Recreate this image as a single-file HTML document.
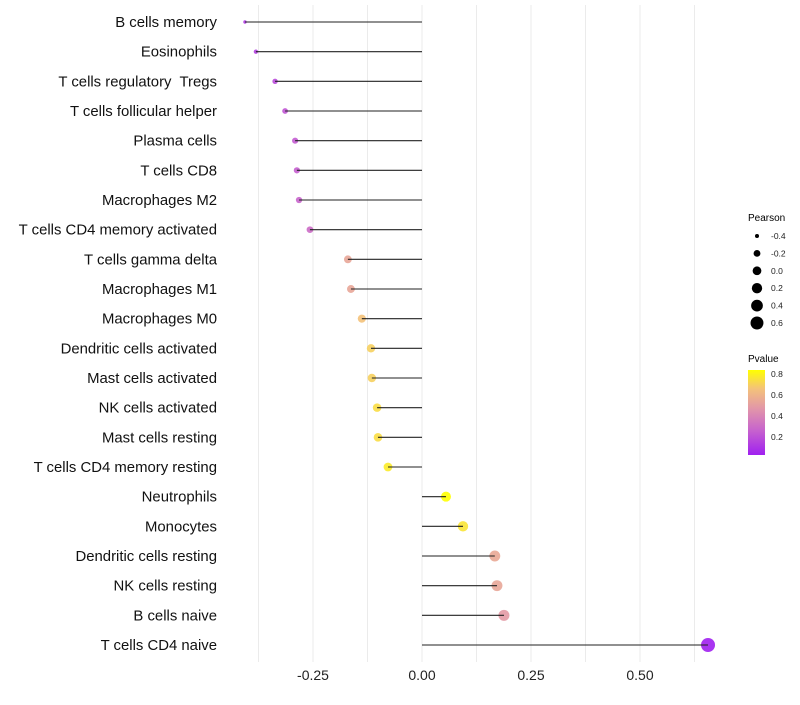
<!DOCTYPE html>
<html><head><meta charset="utf-8"><style>body{margin:0;background:#fff}svg text{font-family:"Liberation Sans",sans-serif;white-space:pre}</style></head>
<body>
<svg id="c" width="800" height="700" xmlns="http://www.w3.org/2000/svg">
<defs><linearGradient id="pg" x1="0" y1="1" x2="0" y2="0">
<stop offset="0" stop-color="#a020f0"/><stop offset="0.3" stop-color="#c865cc"/><stop offset="0.55" stop-color="#e297a8"/><stop offset="0.78" stop-color="#f4c27a"/><stop offset="1" stop-color="#ffff00"/></linearGradient></defs>
<g id="grid"></g><g id="marks"></g><g id="labels"></g><g id="xaxis"></g>
<g id="legend">
<text x="748" y="221" font-size="10">Pearson</text>
<g id="sizeLeg"></g>
<text x="748" y="362" font-size="10">Pvalue</text>
<rect x="748" y="370" width="17" height="85" fill="url(#pg)"/>
<g id="colLeg"></g>
</g>
</svg>
<script>
const categories=["B cells memory","Eosinophils","T cells regulatory  Tregs","T cells follicular helper","Plasma cells","T cells CD8","Macrophages M2","T cells CD4 memory activated","T cells gamma delta","Macrophages M1","Macrophages M0","Dendritic cells activated","Mast cells activated","NK cells activated","Mast cells resting","T cells CD4 memory resting","Neutrophils","Monocytes","Dendritic cells resting","NK cells resting","B cells naive","T cells CD4 naive"];
const pearson=[-0.406,-0.381,-0.337,-0.314,-0.291,-0.287,-0.282,-0.257,-0.170,-0.163,-0.138,-0.117,-0.115,-0.103,-0.101,-0.078,0.055,0.094,0.167,0.172,0.188,0.656];
const pvalue=[0.12,0.14,0.18,0.22,0.24,0.25,0.27,0.30,0.55,0.55,0.66,0.70,0.70,0.74,0.74,0.78,0.84,0.76,0.56,0.55,0.50,0.03];
const xTicks=[-0.25,0,0.25,0.5];
const xTickLabels=["-0.25","0.00","0.25","0.50"];
const sizeLegVals=[-0.4,-0.2,0.0,0.2,0.4,0.6];
const sizeLegLabels=["-0.4","-0.2","0.0","0.2","0.4","0.6"];
const colLegVals=[0.2,0.4,0.6,0.8];
const ns="http://www.w3.org/2000/svg";
function X(v){return 422+v*436;}
function Y(i){return 22+i*(623/21);}
function R(v){return Math.sqrt(Math.max(2,19.2+38*v));}
function RP(v){return 1.02+5.77*Math.sqrt(Math.max(0,v+0.42));}
function C(p){const st=[[0.03,[160,32,240]],[0.27,[200,101,204]],[0.49,[226,151,168]],[0.66,[244,194,122]],[0.84,[255,255,0]]];
 if(p<=st[0][0])return"rgb("+st[0][1]+")";for(let k=1;k<st.length;k++){if(p<=st[k][0]){const a=st[k-1],b=st[k],t=(p-a[0])/(b[0]-a[0]);return"rgb("+a[1].map((c,j)=>Math.round(c+(b[1][j]-c)*t)).join(",")+")";}}return"rgb(255,255,0)";}
function CY(p){return 455-(p-0.03)/(0.84-0.03)*85;}
function el(t,a,p){const e=document.createElementNS(ns,t);for(const k in a)e.setAttribute(k,a[k]);document.getElementById(p).appendChild(e);return e;}
for(let v=-0.375;v<=0.626;v+=0.125){const g=el("line",{x1:X(v),x2:X(v),y1:5,y2:662,stroke:"#ebebeb","stroke-width":1},"grid");

}
categories.forEach((c,i)=>{
 const d=el("circle",{cx:X(pearson[i]),cy:Y(i),r:RP(pearson[i]),fill:C(pvalue[i]),"fill-opacity":0.9},"marks");
 
 
 const l=el("line",{x1:X(0),x2:X(pearson[i]),y1:Y(i),y2:Y(i),stroke:"#222","stroke-width":1.1},"marks");
 
 
 const t=el("text",{x:217,y:Y(i)+5,"text-anchor":"end","font-size":14.9,fill:"#111"},"labels");
 
 
 t.textContent=c;
});
xTicks.forEach((v,i)=>{const t=el("text",{x:X(v),y:680,"text-anchor":"middle","font-size":14,fill:"#222"},"xaxis");


t.textContent=xTickLabels[i];});
sizeLegVals.forEach((v,i)=>{const y=236+i*17.4;
 const d=el("circle",{cx:757,cy:y,r:R(v),fill:"#000"},"sizeLeg");
 
 
 const t=el("text",{x:771,y:y+3,"font-size":8.5,fill:"#222"},"sizeLeg");
 
 
 t.textContent=sizeLegLabels[i];});
colLegVals.forEach(v=>{const y=CY(v);
 const t=el("text",{x:771,y:y+3,"font-size":8.5,fill:"#222"},"colLeg");
 
 
 t.textContent=v.toFixed(1);});
</script>
</body></html>
